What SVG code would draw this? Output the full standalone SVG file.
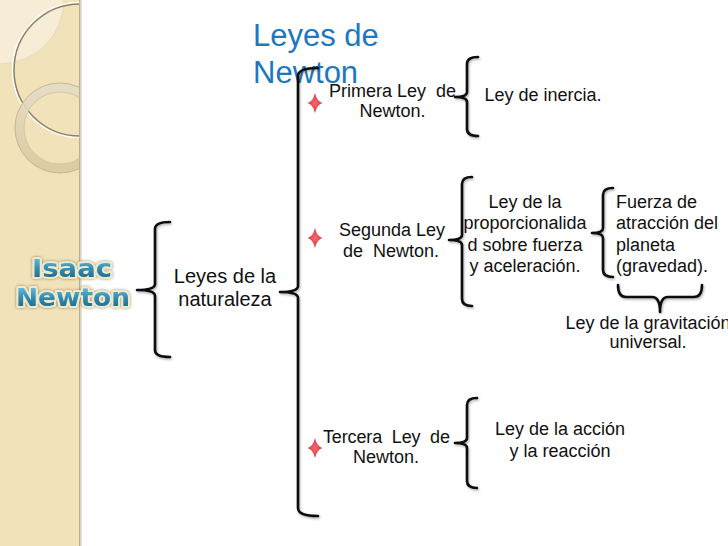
<svg xmlns="http://www.w3.org/2000/svg" width="728" height="546" viewBox="0 0 728 546">
<style>
.t{font-family:"Liberation Sans",Arial,sans-serif;font-size:18px;fill:#111;white-space:pre}
.m{text-anchor:middle}
.big{font-size:20px}
.title{font-family:"Liberation Sans",Arial,sans-serif;font-size:31px;fill:#2077be}
.br{fill:none;stroke:#111;stroke-width:2.6;stroke-linecap:round;stroke-linejoin:round;filter:url(#sh)}
.star{fill:url(#sg)}
.isaac{font-family:"DejaVu Sans",Verdana,sans-serif;font-weight:bold;font-size:25px;fill:url(#ig);stroke:#f1e8c9;stroke-width:4;paint-order:stroke;stroke-linejoin:round;filter:url(#ish)}
</style>
<defs>
<filter id="sh" x="-20%" y="-5%" width="160%" height="110%">
<feDropShadow dx="1" dy="1.5" stdDeviation="1" flood-color="#000" flood-opacity="0.3"/>
</filter>
<filter id="ish" x="-20%" y="-30%" width="140%" height="160%">
<feDropShadow dx="0" dy="0" stdDeviation="1.6" flood-color="#7a6a40" flood-opacity="0.8"/>
</filter>
<linearGradient id="ig" x1="0" y1="0" x2="0" y2="1">
<stop offset="0" stop-color="#7fcde6"/>
<stop offset="0.5" stop-color="#2f8fb4"/>
<stop offset="1" stop-color="#175c7c"/>
</linearGradient>
<radialGradient id="sg">
<stop offset="0" stop-color="#f36a70"/>
<stop offset="1" stop-color="#d7363d"/>
</radialGradient>
<linearGradient id="rg" x1="0" y1="0" x2="0" y2="1">
<stop offset="0" stop-color="#e4dcc8"/>
<stop offset="1" stop-color="#d9c9a0"/>
</linearGradient>
<clipPath id="strip"><rect x="0" y="0" width="80" height="546"/></clipPath>
<path id="star" d="M0,-10 Q1.8,-1.8 7.5,0 Q1.8,1.8 0,10 Q-1.8,1.8 -7.5,0 Q-1.8,-1.8 0,-10 Z"/>
</defs>

<rect width="728" height="546" fill="#ffffff"/>

<g id="background">
<rect x="0" y="0" width="80" height="546" fill="#f2e2ba"/>
<g clip-path="url(#strip)">
<path d="M0,0 L64,0 A64,64 0 0 1 0,64 Z" fill="#f7ecd6"/>
<path d="M64,0 A64,64 0 0 1 0,64" fill="none" stroke="#e6d8ba" stroke-width="1"/>
<circle cx="80" cy="70" r="67.2" fill="none" stroke="#ffffff" stroke-width="2.2"/>
<circle cx="80" cy="70" r="66" fill="none" stroke="#8d7f62" stroke-width="1.5"/>
<circle cx="60" cy="128" r="40.5" fill="none" stroke="url(#rg)" stroke-width="9" opacity="0.9"/>
<circle cx="60" cy="128" r="45" fill="none" stroke="#c4b38a" stroke-width="0.9"/>
<circle cx="60" cy="128" r="36" fill="none" stroke="#d4c49c" stroke-width="0.9"/>
</g>
<rect x="79" y="0" width="1.6" height="546" fill="#bfae8a"/>
<rect x="80.6" y="0" width="1.4" height="546" fill="#e6e0d2"/>
</g>

<g id="title">
<text class="title" x="253" y="46">Leyes de</text>
<text class="title" x="253" y="83">Newton</text>
</g>

<g id="isaac-newton">
<text class="isaac" x="72" y="277" text-anchor="middle" textLength="80" lengthAdjust="spacingAndGlyphs">Isaac</text>
<text class="isaac" x="73" y="306" text-anchor="middle" textLength="114" lengthAdjust="spacingAndGlyphs">Newton</text>
</g>

<g id="connectors">
<path class="br" d="M170,222 Q155,222 155,229 L155,284 Q155,290 137,290 Q155,290 155,296 L155,350 Q155,357 170,357"/>
<path class="br" d="M318,68 Q298,68 298,76 L298,286 Q298,292 280,292 Q298,292 298,298 L298,508 Q298,516 318,516"/>
<path class="br" d="M478,57 Q467,57 467,64 L467,92 Q467,97 455,97 Q467,97 467,102 L467,129 Q467,136 478,136"/>
<path class="br" d="M472,177 Q462,177 462,184 L462,235 Q462,240 449,240 Q462,240 462,245 L462,299 Q462,306 472,306"/>
<path class="br" d="M613,188 Q603,188 603,195 L603,228 Q603,233 592,233 Q603,233 603,238 L603,270 Q603,277 613,277"/>
<path class="br" d="M618,285 Q618,297 626,297 L652,297 Q660,297 660,312 Q660,297 668,297 L694,297 Q702,297 702,285"/>
<path class="br" d="M477,398 Q467,398 467,405 L467,438 Q467,443 455,443 Q467,443 467,448 L467,481 Q467,488 477,488"/>
</g>

<g id="node-naturaleza">
<text class="t m big" x="225" y="283">Leyes de la</text>
<text class="t m big" x="225" y="306">naturaleza</text>
</g>

<g id="node-primera">
<use href="#star" class="star" x="315" y="103"/>
<text class="t m" x="392.5" y="97">Primera Ley  de</text>
<text class="t m" x="392.5" y="117">Newton.</text>
</g>

<g id="node-inercia">
<text class="t m" x="543" y="101">Ley de inercia.</text>
</g>

<g id="node-segunda">
<use href="#star" class="star" x="315" y="238"/>
<text class="t m" x="392" y="236">Segunda Ley</text>
<text class="t m" x="391" y="257">de  Newton.</text>
</g>

<g id="node-proporcionalidad">
<text class="t m" x="525" y="208">Ley de la</text>
<text class="t m" x="525" y="229">proporcionalida</text>
<text class="t m" x="525" y="251">d sobre fuerza</text>
<text class="t m" x="525" y="272">y aceleración.</text>
</g>

<g id="node-fuerza">
<text class="t" x="616" y="208">Fuerza de</text>
<text class="t" x="616" y="229">atracción del</text>
<text class="t" x="616" y="251">planeta</text>
<text class="t" x="616" y="272">(gravedad).</text>
</g>

<g id="node-gravitacion">
<text class="t m" x="648" y="329">Ley de la gravitación</text>
<text class="t m" x="648" y="348">universal.</text>
</g>

<g id="node-tercera">
<use href="#star" class="star" x="315" y="448"/>
<text class="t" x="323" y="443" textLength="127" lengthAdjust="spacing">Tercera  Ley  de</text>
<text class="t m" x="386" y="463">Newton.</text>
</g>

<g id="node-accion">
<text class="t m" x="560" y="435">Ley de la acción</text>
<text class="t m" x="560" y="457">y la reacción</text>
</g>
</svg>
